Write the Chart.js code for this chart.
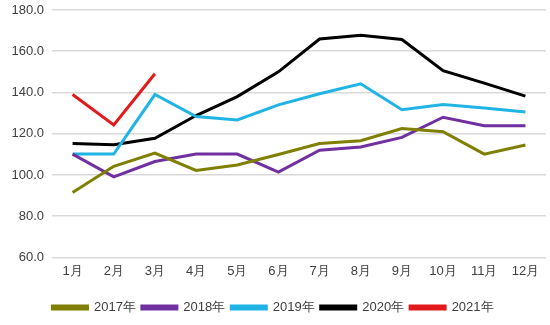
<!DOCTYPE html>
<html><head><meta charset="utf-8">
<script src="https://cdn.jsdelivr.net/npm/chart.js@4/dist/chart.umd.min.js"></script>
<style>html,body{margin:0;padding:0;background:#fff}#wrap{width:550px;height:325px}</style>
</head><body><div id="wrap"><canvas id="c"></canvas></div>
<script>
const months = ['1月','2月','3月','4月','5月','6月','7月','8月','9月','10月','11月','12月'];
const s2017 = [91.5,104.2,110.6,102.2,104.8,109.9,115.2,116.6,122.5,121.0,110.1,114.5];
const s2018 = [110.1,99.1,106.5,110.1,110.1,101.4,112.0,113.6,118.2,128.0,123.9,123.9];
const s2019 = [110.1,110.1,139.0,128.3,126.7,134.0,139.4,144.2,131.6,134.2,132.5,130.5];
const s2020 = [115.3,114.6,117.8,128.8,138.0,150.0,165.9,167.7,165.7,150.6,144.5,138.2];
const s2021 = [139.0,124.2,149.1];
const seriesNames = ['2017年','2018年','2019年','2020年','2021年'];
const colors = ['#7f7f00','#7030a0','#1fb4e4','#000000','#e31a1c'];
const allSeries = [s2017,s2018,s2019,s2020,s2021];
const FONT = "'Liberation Sans', Arial, sans-serif";
new Chart(document.getElementById('c'), {
  type: 'line',
  data: {
    labels: months,
    datasets: allSeries.map((d,i)=>({
      label: seriesNames[i], data: d, borderColor: colors[i], backgroundColor: colors[i],
      borderWidth: 3, pointRadius: 0, tension: 0, fill: false
    }))
  },
  options: {
    responsive: true, maintainAspectRatio: false, animation: false,
    layout: {padding: {left: 0, right: 4, top: 0, bottom: 1}},
    plugins: {
      legend: {position: 'bottom', labels: {boxWidth: 35, boxHeight: 3, padding: 6, color: '#404040', font: {family: FONT, size: 13}}},
      tooltip: {enabled: false}
    },
    scales: {
      x: {offset: true, grid: {display: false, drawTicks: false}, border: {display: false},
          afterFit: (s)=>{ s.height += 10; },
          ticks: {color: '#404040', font: {family: FONT, size: 13}, padding: 6, maxRotation: 0}},
      y: {min: 60, max: 180, grid: {color: '#d9d9d9', lineWidth: 1.5, drawTicks: false}, border: {display: false},
          afterFit: (s)=>{ s.width = 52; s.paddingTop = 10; },
          ticks: {stepSize: 20, padding: 8, color: '#404040', font: {family: FONT, size: 13}, callback: v=>v.toFixed(1)}}
    }
  }
});
</script></body></html>
